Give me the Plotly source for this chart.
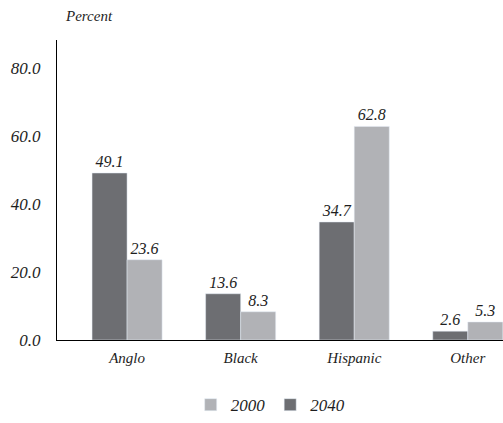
import plotly.graph_objects as go

categories = ["Anglo", "Black", "Hispanic", "Other"]
series_2040 = [49.1, 13.6, 34.7, 2.6]
series_2000 = [23.6, 8.3, 62.8, 5.3]
y_ticks = [0, 20, 40, 60, 80]
y_tick_labels = ["0.0", "20.0", "40.0", "60.0", "80.0"]

FONT = "Liberation Serif"
DARK = "#6d6e72"
LIGHT = "#b1b2b6"
INK = "#1e1e1e"

fig = go.Figure()
fig.add_trace(go.Bar(
    name="<i>2040</i>", x=categories, y=series_2040, marker_color=DARK,
    text=[f"{v:.1f}" for v in series_2040], texttemplate="<i>%{text}</i>",
    textposition="outside", textfont=dict(family=FONT, size=16, color=INK),
    cliponaxis=False, legendrank=2,
))
fig.add_trace(go.Bar(
    name="<i>2000</i>", x=categories, y=series_2000, marker_color=LIGHT,
    text=[f"{v:.1f}" for v in series_2000], texttemplate="<i>%{text}</i>",
    textposition="outside", textfont=dict(family=FONT, size=16, color=INK),
    cliponaxis=False, legendrank=1,
))

fig.update_layout(
    width=503, height=423,
    margin=dict(l=57, r=0, t=40, b=83, autoexpand=False),
    paper_bgcolor="white", plot_bgcolor="white",
    barmode="group", bargap=0.383, bargroupgap=0,
    font=dict(family=FONT, size=15, color=INK),
    showlegend=True,
    legend=dict(orientation="h", x=0.478, xanchor="center", y=-0.217, yanchor="middle",
                font=dict(family=FONT, size=17, color=INK), itemwidth=30,
                tracegroupgap=0),
    xaxis=dict(range=[-0.617, 3.31], showline=True, linecolor="black", linewidth=1.2,
               ticks="", tickvals=categories,
               ticktext=[f"<i>{c}</i>" for c in categories],
               tickfont=dict(family=FONT, size=15, color=INK), ticklabelstandoff=4,
               showgrid=False, zeroline=False, automargin=False, fixedrange=True),
    yaxis=dict(range=[0, 88.2], showline=True, linecolor="black", linewidth=1.2,
               tickvals=y_ticks, ticktext=[f"<i>{t}</i>" for t in y_tick_labels],
               ticks="", ticklabelstandoff=12,
               tickfont=dict(family=FONT, size=17, color=INK),
               showgrid=False, zeroline=False, automargin=False, fixedrange=True),
    annotations=[dict(text="<i>Percent</i>", xref="paper", yref="paper",
                      x=0.013, y=1.0, yshift=24, xanchor="left", yanchor="middle",
                      showarrow=False, font=dict(family=FONT, size=15, color=INK))],
)

fig.write_html("out.html", config={"displayModeBar": False},
               post_script="document.body.style.margin='0px';document.body.style.padding='0px';")
